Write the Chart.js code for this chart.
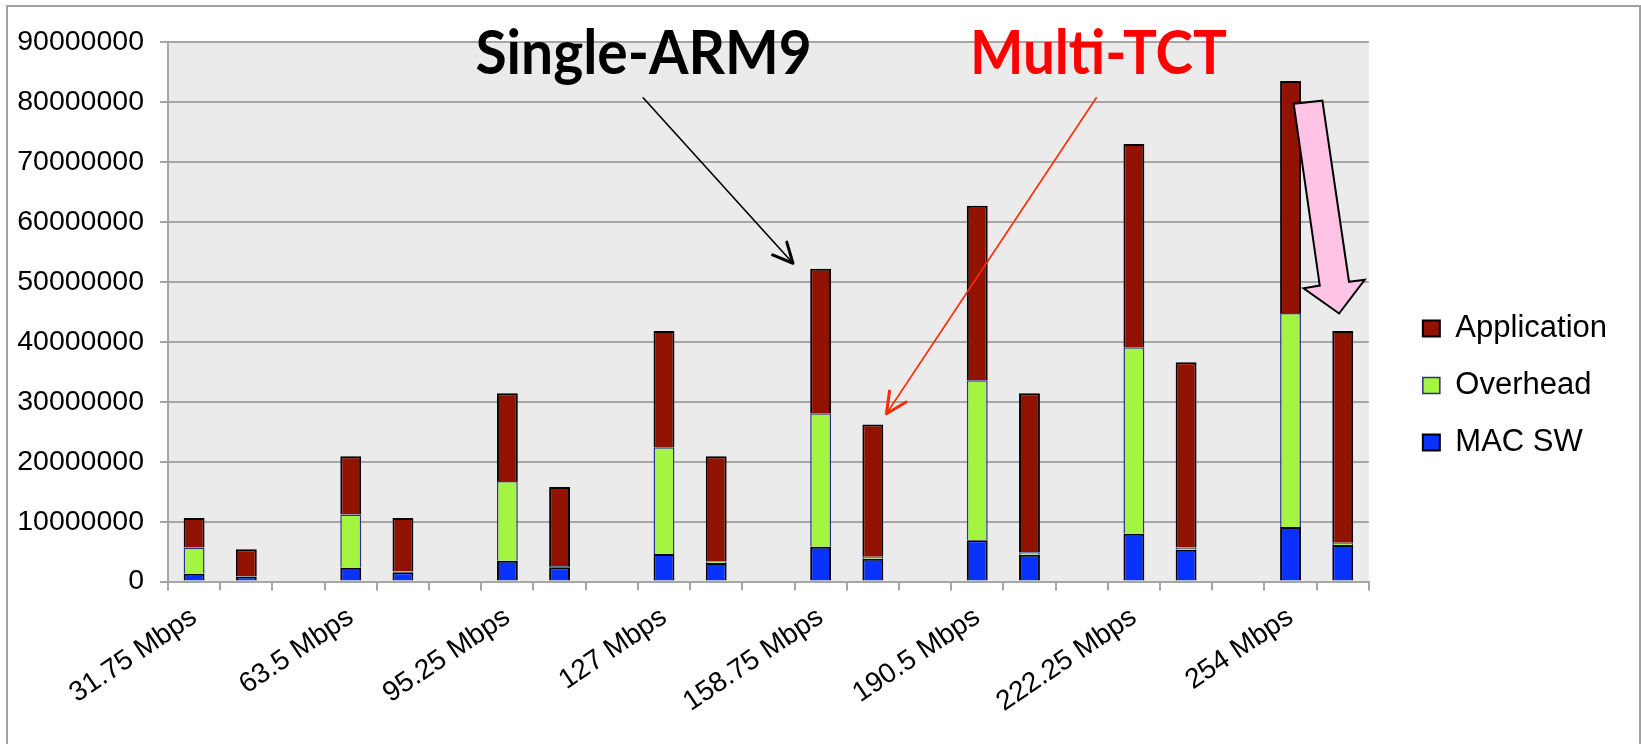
<!DOCTYPE html>
<html><head><meta charset="utf-8">
<script src="https://cdn.jsdelivr.net/npm/chart.js@4.4.0/dist/chart.umd.min.js"></script>
<style>html,body{margin:0;padding:0;background:#fff;overflow:hidden;}</style>
</head><body>
<canvas id="c" width="1641" height="744"></canvas>
<script>
// ---- data ----
const groupLabels = ['31.75 Mbps','63.5 Mbps','95.25 Mbps','127 Mbps','158.75 Mbps','190.5 Mbps','222.25 Mbps','254 Mbps'];
const seriesNames = ['MAC SW','Overhead','Application'];
const singleMacSw = [1300000, 2300000, 3500000, 4600000, 5800000, 6900000, 8000000, 9100000];
const multiMacSw  = [850000, 1550000, 2400000, 3100000, 3800000, 4500000, 5300000, 6100000];
const singleOverhead = [4400000, 8900000, 13300000, 17800000, 22300000, 26700000, 31100000, 35700000];
const multiOverhead  = [100000, 150000, 200000, 250000, 350000, 400000, 400000, 400000];
const singleApplication = [4900000, 9700000, 14600000, 19400000, 24100000, 29100000, 33900000, 38700000];
const multiApplication  = [4450000, 8900000, 13200000, 17550000, 22050000, 26500000, 30900000, 35300000];
const yMax = 90000000;
const yStep = 10000000;

// ---- build category slots: [single, multi, gap] per group ----
const categories = [];
function slots(single, multi) {
  const out = [];
  for (let g = 0; g < groupLabels.length; g++) {
    out.push(single[g], multi[g]);
    if (g < groupLabels.length - 1) out.push(null);
  }
  return out;
}
for (let g = 0; g < groupLabels.length; g++) {
  categories.push(groupLabels[g], '');
  if (g < groupLabels.length - 1) categories.push('');
}

const FONT = "'Liberation Sans', Arial, sans-serif";
const GRID = '#a6a6a6';

// annotation anchors in (category index, value)
const annot = {
  single: { text: 'Single-ARM9', c: 5.39, v: 84600000, wCats: 6.44, color: '#000000' },
  multi:  { text: 'Multi-TCT',   c: 14.86, v: 84600000, wCats: 4.92, color: '#ff0000' },
  blackArrow: { from: [8.60, 80700000], to: [11.47, 53100000], color: '#000000' },
  redArrow:   { from: [17.28, 80700000], to: [13.26, 28000000], color: '#ff2a00' },
  pinkArrow: [[21.06,79710000],[21.61,80210000],[22.12,50010000],[22.42,50330000],[21.93,44720000],[21.25,48920000],[21.56,49370000]]
};

const bgPlugin = {
  id: 'bg',
  beforeDraw(chart) {
    const {ctx, chartArea: a} = chart;
    ctx.save();
    ctx.fillStyle = '#ffffff';
    ctx.fillRect(0, 0, chart.width, chart.height);
    ctx.fillStyle = '#ebebeb';
    ctx.fillRect(a.left, a.top, a.right - a.left, a.bottom - a.top);
    ctx.strokeStyle = '#a0a0a0';
    ctx.lineWidth = 2;
    ctx.strokeRect(7, 6, 1633, 760);
    ctx.restore();
  }
};

function px(chart, c, v) {
  return [chart.scales.x.getPixelForValue(c), chart.scales.y.getPixelForValue(v)];
}
function arrow(ctx, p0, p1, color, shaftW, headW, headLen) {
  ctx.save();
  ctx.strokeStyle = color;
  ctx.lineCap = 'round';
  ctx.lineJoin = 'round';
  ctx.lineWidth = shaftW;
  ctx.beginPath(); ctx.moveTo(p0[0], p0[1]); ctx.lineTo(p1[0], p1[1]); ctx.stroke();
  const ang = Math.atan2(p1[1]-p0[1], p1[0]-p0[0]);
  ctx.lineWidth = headW;
  ctx.beginPath();
  ctx.moveTo(p1[0] - headLen*Math.cos(ang - 0.45), p1[1] - headLen*Math.sin(ang - 0.45));
  ctx.lineTo(p1[0], p1[1]);
  ctx.lineTo(p1[0] - headLen*Math.cos(ang + 0.45), p1[1] - headLen*Math.sin(ang + 0.45));
  ctx.stroke();
  ctx.restore();
}
function fitText(chart, t) {
  const ctx = chart.ctx;
  const [x, y] = px(chart, t.c, t.v);
  const x2 = chart.scales.x.getPixelForValue(t.c + t.wCats);
  ctx.save();
  ctx.font = "bold 61px Lato, 'Open Sans', sans-serif";
  ctx.textBaseline = 'alphabetic';
  ctx.textAlign = 'left';
  const w = ctx.measureText(t.text).width;
  ctx.translate(x, y);
  ctx.scale((x2 - x) / w, 1);
  ctx.fillStyle = t.color;
  ctx.fillText(t.text, 0, 0);
  ctx.restore();
}
const annotPlugin = {
  id: 'annot',
  afterDraw(chart) {
    const ctx = chart.ctx;
    fitText(chart, annot.single);
    fitText(chart, annot.multi);
    arrow(ctx, px(chart, ...annot.blackArrow.from), px(chart, ...annot.blackArrow.to), annot.blackArrow.color, 1.6, 3, 22);
    arrow(ctx, px(chart, ...annot.redArrow.from), px(chart, ...annot.redArrow.to), annot.redArrow.color, 1.6, 3, 23);
    ctx.save();
    ctx.beginPath();
    annot.pinkArrow.forEach((p, i) => {
      const q = px(chart, p[0], p[1]);
      if (i === 0) ctx.moveTo(q[0], q[1]); else ctx.lineTo(q[0], q[1]);
    });
    ctx.closePath();
    ctx.fillStyle = '#ffc4e5';
    ctx.fill();
    ctx.strokeStyle = '#000000';
    ctx.lineWidth = 2;
    ctx.lineJoin = 'miter';
    ctx.stroke();
    ctx.restore();
  }
};

new Chart(document.getElementById('c'), {
  type: 'bar',
  data: {
    labels: categories,
    datasets: [
      { label: seriesNames[0], data: slots(singleMacSw, multiMacSw), backgroundColor: '#0a32ff', borderColor: '#000000', borderWidth: 2 },
      { label: seriesNames[1], data: slots(singleOverhead, multiOverhead), backgroundColor: '#a4f542', borderColor: '#2b2f8f', borderWidth: 1.5 },
      { label: seriesNames[2], data: slots(singleApplication, multiApplication), backgroundColor: '#921200', borderColor: '#000000', borderWidth: 2 }
    ]
  },
  options: {
    responsive: false,
    animation: false,
    devicePixelRatio: 1,
    barPercentage: 0.4,
    categoryPercentage: 1.0,
    layout: { padding: { left: 16, top: 42, right: 24, bottom: 15 } },
    plugins: {
      legend: {
        position: 'right',
        reverse: true,
        labels: { boxWidth: 17, boxHeight: 16, padding: 26, color: '#000', font: { family: FONT, size: 31 } }
      },
      tooltip: { enabled: false }
    },
    scales: {
      x: {
        stacked: true,
        grid: { display: true, drawOnChartArea: false, drawTicks: true, tickLength: 9, color: GRID, lineWidth: 2, offset: true },
        border: { display: true, color: GRID, width: 2 },
        ticks: { autoSkip: false, maxRotation: 34, minRotation: 34, padding: 10, color: '#000', font: { family: FONT, size: 28 } },
        afterFit: s => { s.paddingLeft = 0; s.paddingRight = 0; }
      },
      y: {
        stacked: true,
        min: 0, max: yMax,
        grid: { color: GRID, lineWidth: 2, tickLength: 8, drawTicks: true },
        border: { display: true, color: GRID, width: 2 },
        ticks: { stepSize: yStep, padding: 16, color: '#000', font: { family: FONT, size: 28.5 }, callback: v => String(v) },
        afterFit: s => { s.width = 152; }
      },
      y2: {
        position: 'right',
        display: true,
        grid: { display: false, drawTicks: false },
        border: { display: false },
        ticks: { display: false },
        afterFit: s => { s.width = 28; }
      }
    }
  },
  plugins: [bgPlugin, annotPlugin]
});
</script>
</body></html>
